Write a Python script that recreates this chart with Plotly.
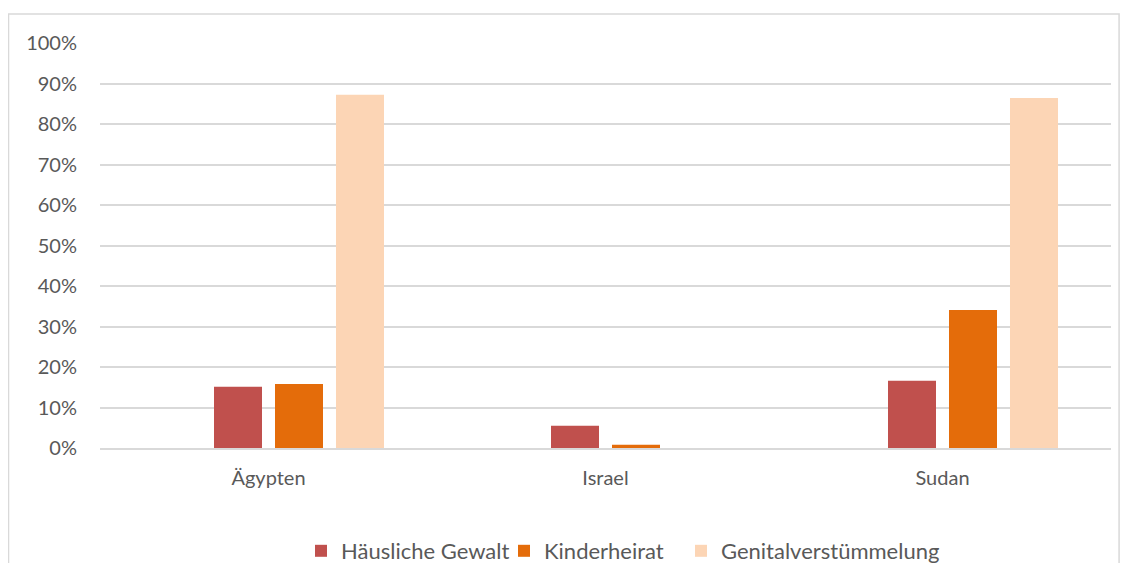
import plotly.graph_objects as go

categories = ["Ägypten", "Israel", "Sudan"]
series_names = ["Häusliche Gewalt", "Kinderheirat", "Genitalverstümmelung"]
haeusliche_gewalt = [0.151, 0.055, 0.166]
kinderheirat = [0.158, 0.008, 0.341]
genitalverstuemmelung = [0.872, None, 0.864]
placeholder = [None, None, None]  # empty first series slot in the original chart
colors = ["#C0504D", "#E46C0A", "#FCD5B5"]
legend_entry_widths = [158, 132, 0]
y_ticks = [i / 10 for i in range(11)]
y_tick_labels = [f"{i * 10}%" for i in range(11)]

FONT = "Lato"
TXT = "#595959"

# the page adds an 8px body margin, so the figure is 8px smaller than the window
W, H = 1120, 555

fig = go.Figure()
fig.add_trace(go.Bar(x=categories, y=placeholder, showlegend=False, hoverinfo="skip",
                     marker_color="rgba(0,0,0,0)"))
for name, vals, col, lw in zip(series_names, [haeusliche_gewalt, kinderheirat, genitalverstuemmelung],
                               colors, legend_entry_widths):
    kw = dict(legendwidth=lw) if lw else {}
    fig.add_trace(go.Bar(x=categories, y=vals, name=name, marker=dict(color=col, line=dict(width=0)), **kw))

fig.update_layout(
    width=W, height=H,
    margin=dict(l=92, r=17, t=35, b=115, autoexpand=False),
    paper_bgcolor="white", plot_bgcolor="white",
    barmode="group", bargap=0.276, bargroupgap=0.213,
    font=dict(family=FONT, color=TXT, size=20),
    legend=dict(orientation="h", xref="container", yref="container",
                x=293 / W, xanchor="left", y=(H - 543) / H, yanchor="middle",
                font=dict(size=22, color=TXT, family=FONT), traceorder="normal"),
    showlegend=True,
    shapes=[dict(type="rect", xref="paper", yref="paper", x0=-0.0905, x1=1.008, y0=-0.6, y1=1.0716,
                 line=dict(color="#D9D9D9", width=1.5), fillcolor="rgba(0,0,0,0)", layer="below")],
)
fig.update_yaxes(range=[0, 1], tickvals=y_ticks, ticktext=y_tick_labels, showgrid=True,
                 gridcolor="#D9D9D9", gridwidth=1.5, zeroline=False, showline=False,
                 ticklabelstandoff=22, tickfont=dict(size=20, color=TXT, family=FONT))
fig.update_xaxes(showline=True, linecolor="#D9D9D9", linewidth=1.5, ticks="",
                 ticklabelstandoff=11, tickfont=dict(size=20, color=TXT, family=FONT))

fig.write_html("out.html")
